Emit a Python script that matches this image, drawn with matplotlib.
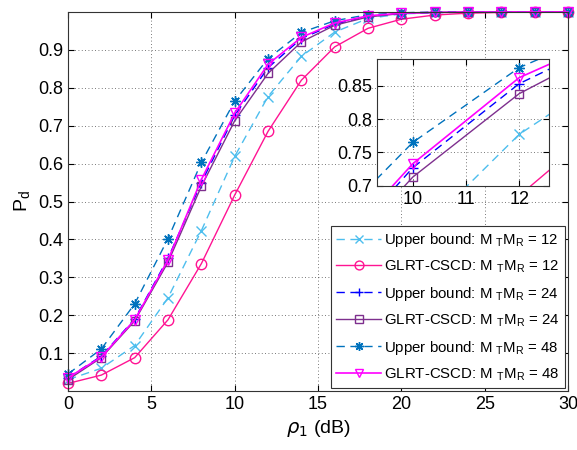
import numpy as np
import matplotlib
matplotlib.use('Agg')
import matplotlib.pyplot as plt

plt.rcParams['font.family'] = ['Liberation Sans', 'DejaVu Sans']
plt.rcParams['mathtext.default'] = 'regular'

# SNR grid (dB)
rho = [0, 2, 4, 6, 8, 10, 12, 14, 16, 18, 20, 22, 24, 26, 28, 30]

# detection probabilities
ub_12 = [0.03, 0.06, 0.12, 0.246, 0.423, 0.619, 0.777, 0.883, 0.947, 0.983, 0.995, 0.998, 0.999, 1.0, 1.0, 1.0]
glrt_12 = [0.02, 0.042, 0.088, 0.188, 0.336, 0.517, 0.685, 0.82, 0.908, 0.957, 0.981, 0.992, 0.997, 0.999, 1.0, 1.0]
ub_24 = [0.035, 0.092, 0.19, 0.35, 0.55, 0.727, 0.853, 0.93, 0.968, 0.988, 0.996, 0.999, 1.0, 1.0, 1.0, 1.0]
glrt_24 = [0.03, 0.088, 0.185, 0.34, 0.54, 0.713, 0.838, 0.921, 0.965, 0.987, 0.996, 0.999, 1.0, 1.0, 1.0, 1.0]
ub_48 = [0.045, 0.111, 0.23, 0.402, 0.603, 0.765, 0.877, 0.946, 0.977, 0.993, 0.998, 1.0, 1.0, 1.0, 1.0, 1.0]
glrt_48 = [0.035, 0.09, 0.188, 0.346, 0.558, 0.733, 0.862, 0.933, 0.971, 0.99, 0.997, 0.999, 1.0, 1.0, 1.0, 1.0]

labels = ['Upper bound: M $_T$M$_R$ = 12', 'GLRT-CSCD: M $_T$M$_R$ = 12',
          'Upper bound: M $_T$M$_R$ = 24', 'GLRT-CSCD: M $_T$M$_R$ = 24',
          'Upper bound: M $_T$M$_R$ = 48', 'GLRT-CSCD: M $_T$M$_R$ = 48']

star = (8, 2, 0)
dash = (0, (6, 4))
styles = [
    dict(color='#4DBEEE', ls=dash, marker='x', lw=1.0),
    dict(color='#FF1493', ls='-', marker='o', lw=1.0, mfc='none'),
    dict(color='#0000FF', ls=dash, marker='+', lw=1.0),
    dict(color='#7E2F8E', ls='-', marker='s', lw=1.0, mfc='none', ms=6),
    dict(color='#0072BD', ls=dash, marker=star, lw=1.0),
    dict(color='#FF00FF', ls='-', marker='v', lw=1.2, mfc='none'),
]
series = [ub_12, glrt_12, ub_24, glrt_24, ub_48, glrt_48]


def draw(ax, with_labels):
    for y, st, lab in zip(series, styles, labels):
        kw = dict(st)
        kw.setdefault('ms', 7.5)
        kw['mew'] = 1.0
        ax.plot(rho, y, label=lab if with_labels else None, **kw)
    ax.grid(True, color='k', ls=(0, (1, 3)), lw=0.6, alpha=0.7)
    ax.tick_params(direction='in', top=True, right=True, labelsize=13, length=4)
    for s in ax.spines.values():
        s.set_color('#333333')
        s.set_linewidth(0.8)


fig = plt.figure(figsize=(5.77, 4.5), dpi=100)
ax = fig.add_axes([0.1179, 0.1311, 0.8665, 0.8422])
draw(ax, True)
for l in ax.get_lines():
    l.set_clip_on(False)
ax.set_xlim(0, 30)
ax.set_ylim(0, 1)
ax.set_xticks([0, 5, 10, 15, 20, 25, 30])
ax.set_yticks([0.1, 0.2, 0.3, 0.4, 0.5, 0.6, 0.7, 0.8, 0.9])
ax.set_yticklabels(['0.1', '0.2', '0.3', '0.4', '0.5', '0.6', '0.7', '0.8', '0.9'])
ax.set_xlabel(r'$\it{\rho}_1$ (dB)', fontsize=14)
ax.set_ylabel('P$_d$', fontsize=14)

leg = ax.legend(loc='lower right', fontsize=10.8, frameon=True, fancybox=False,
                edgecolor='#333333', framealpha=1, borderaxespad=0.2,
                handlelength=3.0, handletextpad=0.2, labelspacing=0.65,
                borderpad=0.35, markerscale=0.85)
leg.get_frame().set_linewidth(0.8)

# zoomed inset
axin = fig.add_axes([0.6528, 0.5873, 0.2986, 0.2816])
draw(axin, False)
axin.set_xlim(9.32, 12.56)
axin.set_ylim(0.7, 0.89)
axin.set_xticks([10, 11, 12])
axin.set_yticks([0.7, 0.75, 0.8, 0.85])
axin.set_yticklabels(['0.7', '0.75', '0.8', '0.85'])

fig.savefig('out.png', dpi=100)
